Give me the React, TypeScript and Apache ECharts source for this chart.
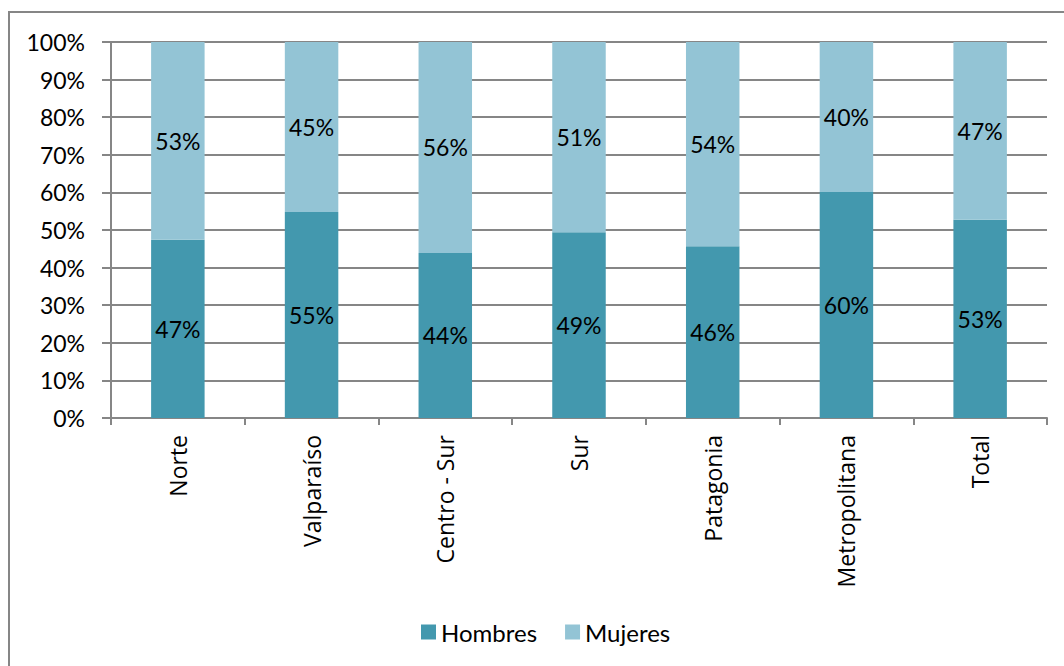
import React, { useEffect, useRef } from "react";
import * as echarts from "echarts";

const categories = ["Norte", "Valparaíso", "Centro - Sur", "Sur", "Patagonia", "Metropolitana", "Total"];
const hombres = [47.4, 54.8, 43.9, 49.4, 45.7, 60.1, 52.7];
const mujeres = [52.6, 45.2, 56.1, 50.6, 54.3, 39.9, 47.3];
const yTicks = [0, 10, 20, 30, 40, 50, 60, 70, 80, 90, 100];

const HOMBRES_COLOR = "#4398AE";
const MUJERES_COLOR = "#93C4D5";
const AXIS_COLOR = "#868686";
const FONT = "Lato";

export default function App() {
  const ref = useRef<HTMLDivElement>(null);
  useEffect(() => {
    if (!ref.current) return;
    const chart = echarts.init(ref.current, null, { renderer: "svg" });
    const labelOpt = {
      show: true,
      position: "inside",
      color: "#000",
      fontFamily: FONT,
      fontSize: 23,
      formatter: (p: any) => Math.round(p.value) + "%",
    };
    chart.setOption({
      animation: false,
      backgroundColor: "#fff",
      graphic: [
        {
          type: "rect",
          shape: { x: 9, y: 12, width: 1100, height: 700 },
          style: { fill: "none", stroke: AXIS_COLOR, lineWidth: 2 },
          silent: true,
        },
      ],
      grid: { left: 111, right: 17, top: 42, bottom: 248, containLabel: false },
      legend: {
        bottom: 17,
        left: 416,
        itemWidth: 15,
        itemHeight: 15,
        itemGap: 28,
        icon: "rect",
        textStyle: { fontFamily: FONT, fontSize: 24, color: "#000" },
        data: ["Hombres", "Mujeres"],
      },
      xAxis: {
        type: "category",
        data: categories,
        axisLine: { lineStyle: { color: AXIS_COLOR, width: 2 } },
        axisTick: { show: true, alignWithLabel: false, length: 7, lineStyle: { color: AXIS_COLOR, width: 2 } },
        axisLabel: {
          rotate: 90,
          margin: 17,
          color: "#000",
          fontFamily: "Open Sans",
          fontSize: 23,
          interval: 0,
        },
      },
      yAxis: {
        type: "value",
        min: 0,
        max: 100,
        interval: 10,
        axisLine: { show: true, lineStyle: { color: AXIS_COLOR, width: 2 } },
        axisTick: { show: true, length: 9, lineStyle: { color: AXIS_COLOR, width: 2 } },
        splitLine: { show: true, lineStyle: { color: AXIS_COLOR, width: 2 } },
        axisLabel: {
          margin: 26,
          color: "#000",
          fontFamily: FONT,
          fontSize: 23,
          formatter: (v: number) => (yTicks.includes(v) ? v + "%" : ""),
        },
      },
      series: [
        {
          name: "Hombres",
          type: "bar",
          stack: "total",
          barWidth: "40%",
          data: hombres,
          itemStyle: { color: HOMBRES_COLOR },
          label: labelOpt,
        },
        {
          name: "Mujeres",
          type: "bar",
          stack: "total",
          barWidth: "40%",
          data: mujeres,
          itemStyle: { color: MUJERES_COLOR },
          label: labelOpt,
        },
      ],
    });
    return () => chart.dispose();
  }, []);
  return (
    <div
      ref={ref}
      style={{ position: "absolute", left: 0, top: 0, width: 1064, height: 666 }}
    />
  );
}
